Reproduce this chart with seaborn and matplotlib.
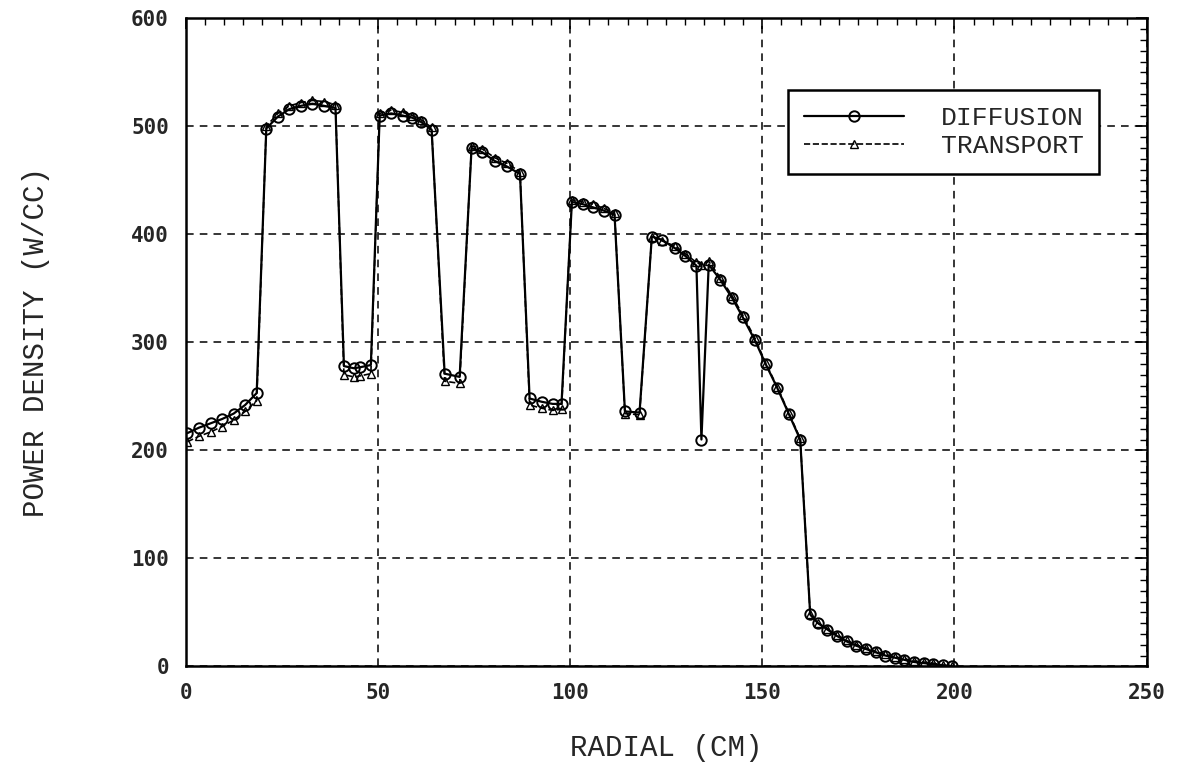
import numpy as np
import pandas as pd
import matplotlib.pyplot as plt
import matplotlib.ticker as mticker
import seaborn as sns

# radial positions (cm) and power density (W/cc)
radial = [0.5, 3.5, 6.5, 9.5, 12.5, 15.5, 18.5,
          21, 24, 27, 30, 33, 36, 39,
          41.2, 43.8, 45.5, 48.2,
          50.5, 53.5, 56.5, 59, 61.3, 64,
          67.4, 71.3,
          74.4, 77.2, 80.4, 83.5, 87,
          89.5, 92.6, 95.5, 97.8,
          100.5, 103.3, 106, 108.8, 111.6,
          114.3, 118.1,
          121.3, 123.9, 127.4, 130, 132.9,
          134.2,
          136.1, 139.1, 142.2, 145, 148.1, 150.9, 153.9, 156.9, 159.9,
          162.5, 164.5, 167, 169.5, 172, 174.5, 177, 179.5, 182, 184.5,
          187, 189.5, 192, 194.5, 197, 199.5]

diffusion = [216, 221, 225, 229, 234, 242, 253,
             498, 509, 516, 519, 521, 519, 517,
             278, 276, 277, 279,
             510, 512, 510, 508, 504, 497,
             271, 268,
             480, 476, 468, 463, 456,
             248, 245, 243, 243,
             430, 428, 425, 422, 418,
             236, 235,
             398, 395, 387, 380, 371,
             210,
             372, 358, 341, 323, 302, 280, 258, 234, 210,
             48, 40, 34, 28, 23, 19, 16, 13, 10, 8,
             6, 4, 3, 2, 1, 0]

transport = [208, 213, 217, 222, 228, 236, 246,
             500, 512, 519, 522, 524, 523, 520,
             270, 268, 269, 271,
             512, 515, 513, 510, 506, 499,
             264, 262,
             482, 479, 471, 466, 458,
             242, 239, 237, 238,
             432, 430, 428, 424, 420,
             234, 233,
             398, 394, 389, 382, 374,
             372,
             375, 360, 343, 325, 304, 281, 259, 235, 211,
             48, 40, 35, 29, 24, 20, 17, 14, 11, 9,
             7, 5, 4, 3, 1, 0]

df_d = pd.DataFrame({"radial": radial, "power": diffusion})
df_t = pd.DataFrame({"radial": radial, "power": transport})

sns.set_style("white")
plt.rcParams['font.family'] = ['DejaVu Sans Mono', 'DejaVu Sans']

fig, ax = plt.subplots(figsize=(11.82, 7.65), dpi=100)
fig.subplots_adjust(left=0.157, right=0.970, bottom=0.129, top=0.976)

sns.lineplot(data=df_t, x="radial", y="power", ax=ax, color="black", lw=1.2,
             linestyle="--", marker="^", markersize=6, mfc="none", mec="black",
             mew=1.0, label="TRANSPORT", sort=False, zorder=3)
sns.lineplot(data=df_d, x="radial", y="power", ax=ax, color="black", lw=1.6,
             marker="o", markersize=7.5, mfc="none", mec="black", mew=1.4,
             label="DIFFUSION", sort=False, zorder=4)

ax.set_xlim(0, 250)
ax.set_ylim(0, 600)
ax.xaxis.set_major_locator(mticker.MultipleLocator(50))
ax.xaxis.set_minor_locator(mticker.MultipleLocator(5))
ax.yaxis.set_major_locator(mticker.MultipleLocator(100))
ax.yaxis.set_minor_locator(mticker.MultipleLocator(10))
ax.grid(True, which="major", color="black", linestyle=(0, (5, 4)), lw=1.1)
ax.tick_params(which="both", direction="in", top=True, right=True, color="black")
ax.tick_params(which="major", length=8, width=1.2, labelsize=15, pad=12)
ax.tick_params(which="minor", length=5, width=1.0)
for lab in ax.get_xticklabels() + ax.get_yticklabels():
    lab.set_fontweight("bold")
for s in ax.spines.values():
    s.set_color("black")
    s.set_linewidth(1.8)

ax.set_xlabel("RADIAL (CM)", fontsize=21, labelpad=22, family="Liberation Mono")
ax.set_ylabel("POWER DENSITY (W/CC)", fontsize=21, labelpad=58, family="Liberation Mono")

h, l = ax.get_legend_handles_labels()
leg = ax.legend(h[::-1], l[::-1], loc="upper right", bbox_to_anchor=(0.951, 0.889),
                borderaxespad=0, frameon=True, fancybox=False, edgecolor="black",
                framealpha=1, prop={"family": "Liberation Mono", "size": 19},
                handlelength=3.8, handletextpad=1.4, borderpad=0.6, labelspacing=0.15)
leg.get_frame().set_linewidth(1.8)

plt.savefig("out.png", dpi=100)
